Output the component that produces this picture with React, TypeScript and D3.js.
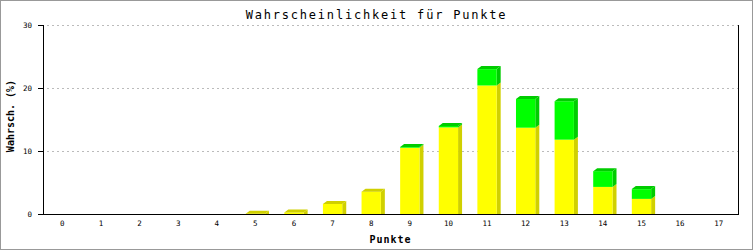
import React from "react";
import * as d3 from "d3";

const categories = ["0","1","2","3","4","5","6","7","8","9","10","11","12","13","14","15","16","17"];
const yellowValues = [0,0,0,0,0,0.05,0.25,1.6,3.55,10.5,13.75,20.4,13.7,11.8,4.3,2.4,0,0];
const greenValues = [0,0,0,0,0,0,0,0,0,0.12,0.22,2.6,4.55,6.1,2.5,1.55,0,0];
const yTicks = [0,10,20,30];
const seriesColors = [
  { front: "#ffff00", shade: "#d0d000" },
  { front: "#00ff00", shade: "#00cc00" },
];

const W = 753, H = 250;
const left = 43, right = 738, top = 25, bottom = 214;
const DX = 4, DY = 3;
const mono = "'DejaVu Sans Mono', 'Liberation Mono', monospace";

export default function App() {
  const x = d3.scaleBand<string>().domain(categories).range([left, right]).paddingInner(0).paddingOuter(0);
  const y = d3.scaleLinear().domain([0, 30]).range([bottom, top]);
  const bw = x.bandwidth() * 0.5;

  const bars: JSX.Element[] = [];
  categories.forEach((c, i) => {
    const vals = [yellowValues[i], greenValues[i]];
    const total = vals[0] + vals[1];
    if (total <= 0) return;
    const x0 = (x(c) as number) + (x.bandwidth() - bw) / 2;
    const x1 = x0 + bw;
    let base = 0;
    const lastIdx = vals[1] > 0 ? 1 : 0;
    vals.forEach((v, s) => {
      if (v <= 0) return;
      const yB = y(base);
      const yT = y(base + v);
      const col = seriesColors[s];
      const sideBottom = s === 0 ? yB : yB - DY;
      bars.push(
        <polygon key={`s${i}-${s}`} fill={col.shade}
          points={`${x1},${yT} ${x1 + DX},${yT - DY} ${x1 + DX},${sideBottom} ${x1},${yB}`} />
      );
      bars.push(
        <rect key={`f${i}-${s}`} x={x0} y={yT} width={bw} height={Math.max(0, yB - yT)} fill={col.front} />
      );
      if (s === lastIdx) {
        bars.push(
          <polygon key={`t${i}-${s}`} fill={col.shade}
            points={`${x0},${yT} ${x0 + DX},${yT - DY} ${x1 + DX},${yT - DY} ${x1},${yT}`} />
        );
      }
      base += v;
    });
  });

  return (
    <div style={{ position: "absolute", left: 0, top: 0 }}>
      <svg width={W} height={H} style={{ display: "block" }}>
        <rect x={0} y={0} width={W} height={H} fill="#ffffff" />
        <rect x={0.5} y={0.5} width={W - 1} height={H - 1} fill="none" stroke="#999999" strokeWidth={1} />
        {yTicks.filter(t => t > 0).map(t => (
          <line key={`g${t}`} x1={47} x2={right} y1={Math.round(y(t)) + 0.5} y2={Math.round(y(t)) + 0.5}
            stroke="#bbbbbb" strokeWidth={1} strokeDasharray="2,3" />
        ))}
        {bars}
        <line x1={left + 0.5} x2={left + 0.5} y1={top} y2={bottom + 0.5} stroke="#000" strokeWidth={1} />
        <line x1={right + 0.5} x2={right + 0.5} y1={top} y2={bottom + 0.5} stroke="#000" strokeWidth={1} />
        <line x1={left} x2={right + 1} y1={bottom + 0.5} y2={bottom + 0.5} stroke="#000" strokeWidth={1} />
        {yTicks.map(t => (
          <g key={`yt${t}`}>
            <line x1={38} x2={left} y1={Math.round(y(t)) + 0.5} y2={Math.round(y(t)) + 0.5} stroke="#000" />
            <text x={32} y={y(t) + 2.5} textAnchor="end" fontFamily={mono} fontSize={7.5} fill="#000">{t}</text>
          </g>
        ))}
        {categories.map(c => (
          <text key={`xt${c}`} x={(x(c) as number) + x.bandwidth() / 2} y={226} textAnchor="middle"
            fontFamily={mono} fontSize={7.5} fill="#000">{c}</text>
        ))}
        <text x={W / 2} y={18.5} textAnchor="middle" fontFamily={mono} fontSize={12} letterSpacing={1.8} fill="#000">
          Wahrscheinlichkeit für Punkte
        </text>
        <text x={(left + right) / 2} y={243} textAnchor="middle" fontFamily={mono} fontSize={10} fontWeight="bold" letterSpacing={1} fill="#000">
          Punkte
        </text>
        <text transform={`translate(14, 116) rotate(-90)`} textAnchor="middle" fontFamily={mono} fontSize={10} fontWeight="bold" fill="#000">
          Wahrsch. (%)
        </text>
      </svg>
    </div>
  );
}
